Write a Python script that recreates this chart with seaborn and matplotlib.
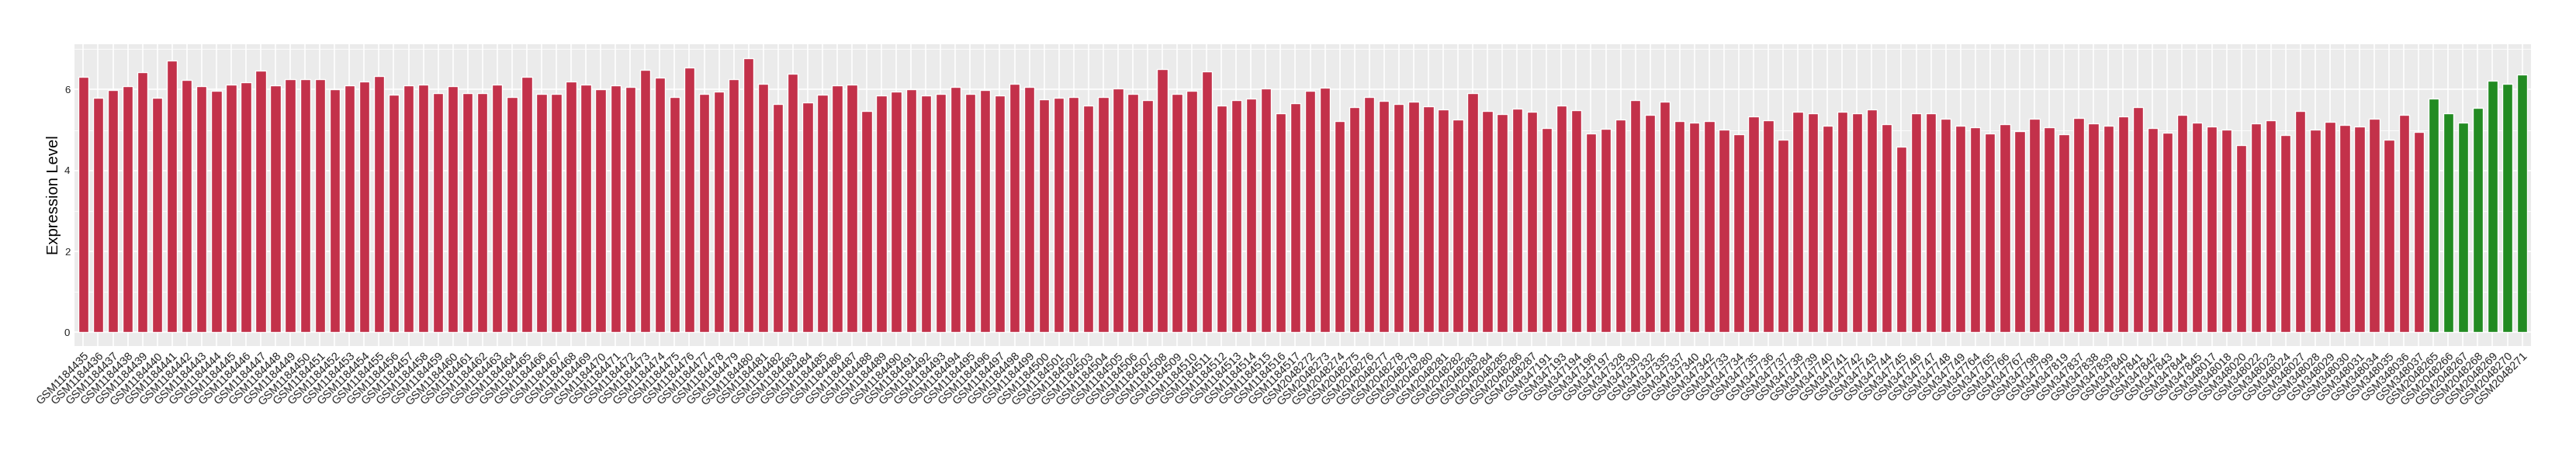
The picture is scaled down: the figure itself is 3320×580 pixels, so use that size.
import matplotlib
matplotlib.use("Agg")
import matplotlib.pyplot as plt
from matplotlib.ticker import MultipleLocator
import pandas as pd
import seaborn as sns

RED = "#C3314A"
GREEN = "#228B22"

# sample ids (x axis order)
tumor_samples = [
    "GSM1184435", "GSM1184436", "GSM1184437", "GSM1184438", "GSM1184439", "GSM1184440", "GSM1184441", "GSM1184442",
    "GSM1184443", "GSM1184444", "GSM1184445", "GSM1184446", "GSM1184447", "GSM1184448", "GSM1184449", "GSM1184450",
    "GSM1184451", "GSM1184452", "GSM1184453", "GSM1184454", "GSM1184455", "GSM1184456", "GSM1184457", "GSM1184458",
    "GSM1184459", "GSM1184460", "GSM1184461", "GSM1184462", "GSM1184463", "GSM1184464", "GSM1184465", "GSM1184466",
    "GSM1184467", "GSM1184468", "GSM1184469", "GSM1184470", "GSM1184471", "GSM1184472", "GSM1184473", "GSM1184474",
    "GSM1184475", "GSM1184476", "GSM1184477", "GSM1184478", "GSM1184479", "GSM1184480", "GSM1184481", "GSM1184482",
    "GSM1184483", "GSM1184484", "GSM1184485", "GSM1184486", "GSM1184487", "GSM1184488", "GSM1184489", "GSM1184490",
    "GSM1184491", "GSM1184492", "GSM1184493", "GSM1184494", "GSM1184495", "GSM1184496", "GSM1184497", "GSM1184498",
    "GSM1184499", "GSM1184500", "GSM1184501", "GSM1184502", "GSM1184503", "GSM1184504", "GSM1184505", "GSM1184506",
    "GSM1184507", "GSM1184508", "GSM1184509", "GSM1184510", "GSM1184511", "GSM1184512", "GSM1184513", "GSM1184514",
    "GSM1184515", "GSM1184516", "GSM1184517",
    "GSM2048272", "GSM2048273", "GSM2048274", "GSM2048275", "GSM2048276", "GSM2048277", "GSM2048278", "GSM2048279",
    "GSM2048280", "GSM2048281", "GSM2048282", "GSM2048283", "GSM2048284", "GSM2048285", "GSM2048286", "GSM2048287",
    "GSM347191", "GSM347193", "GSM347194", "GSM347196", "GSM347197", "GSM347328", "GSM347330", "GSM347332",
    "GSM347335", "GSM347337", "GSM347340", "GSM347342",
    "GSM347733", "GSM347734", "GSM347735", "GSM347736", "GSM347737", "GSM347738", "GSM347739", "GSM347740",
    "GSM347741", "GSM347742", "GSM347743", "GSM347744", "GSM347745", "GSM347746", "GSM347747", "GSM347748",
    "GSM347749", "GSM347764", "GSM347765", "GSM347766", "GSM347767", "GSM347798", "GSM347799", "GSM347819",
    "GSM347837", "GSM347838", "GSM347839", "GSM347840", "GSM347841", "GSM347842", "GSM347843", "GSM347844",
    "GSM347845",
    "GSM348017", "GSM348018", "GSM348020", "GSM348022", "GSM348023", "GSM348024", "GSM348027", "GSM348028",
    "GSM348029", "GSM348030", "GSM348031", "GSM348034", "GSM348035", "GSM348036", "GSM348037",
]
normal_samples = [
    "GSM2048265", "GSM2048266", "GSM2048267", "GSM2048268", "GSM2048269", "GSM2048270", "GSM2048271",
]

# expression values
tumor_values = [
    6.32, 5.79, 5.98, 6.08, 6.42, 5.79, 6.72, 6.23, 6.08, 5.96, 6.13, 6.17, 6.46, 6.11,
    6.25, 6.25, 6.25, 6.00, 6.10, 6.19, 6.34, 5.87, 6.10, 6.13, 5.92, 6.08, 5.92, 5.92,
    6.13, 5.81, 6.32, 5.89, 5.90, 6.19, 6.13, 6.00, 6.11, 6.06, 6.48, 6.29, 5.81, 6.55,
    5.89, 5.94, 6.25, 6.78, 6.15, 5.64, 6.40, 5.68, 5.87, 6.10, 6.13, 5.47, 5.85, 5.94,
    6.00, 5.85, 5.89, 6.06, 5.89, 5.98, 5.85, 6.15, 6.06, 5.75, 5.79, 5.81, 5.60, 5.81,
    6.02, 5.90, 5.73, 6.50, 5.90, 5.96, 6.44, 5.60, 5.73, 5.77, 6.02, 5.41, 5.66,
    5.96, 6.04, 5.22, 5.56, 5.81, 5.71, 5.64, 5.70, 5.58, 5.50, 5.26, 5.92, 5.47, 5.39,
    5.52, 5.45,
    5.05, 5.60, 5.49, 4.91, 5.03, 5.26, 5.73, 5.37, 5.70, 5.22, 5.18, 5.22,
    5.01, 4.90, 5.33, 5.24, 4.76, 5.45, 5.41, 5.10, 5.45, 5.41, 5.50, 5.14, 4.59, 5.41,
    5.41, 5.28, 5.10, 5.07, 4.91, 5.14, 4.97, 5.28, 5.07, 4.90, 5.30, 5.16, 5.10, 5.33,
    5.56, 5.05, 4.93, 5.37, 5.18, 5.09, 5.01, 4.63, 5.16, 5.24, 4.88, 5.47, 5.01, 5.20,
    5.12, 5.09, 5.28, 4.76, 5.37, 4.95,
]
normal_values = [5.77, 5.41, 5.18, 5.54, 6.21, 6.15, 6.38]


def build_frame():
    df = pd.concat([
        pd.DataFrame({"sample": tumor_samples, "value": tumor_values, "group": "Tumor"}),
        pd.DataFrame({"sample": normal_samples, "value": normal_values, "group": "Normal"}),
    ], ignore_index=True)
    return df


def main():
    df = build_frame()
    order = list(df["sample"])

    sns.set_theme(style="darkgrid")
    plt.rcParams["font.family"] = ["Liberation Sans", "DejaVu Sans"]

    W, H = 3320, 580
    fig = plt.figure(figsize=(W / 100, H / 100), dpi=100, facecolor="white")
    left, right, top, bottom = 96, 3262, 57, 446
    ax = fig.add_axes([left / W, (H - bottom) / H, (right - left) / W, (bottom - top) / H])
    ax.set_facecolor("#EBEBEB")

    sns.barplot(
        data=df, x="sample", y="value", hue="group", order=order,
        palette={"Tumor": RED, "Normal": GREEN}, width=0.7, dodge=False,
        saturation=1, legend=False, ax=ax,
    )

    n = len(order)
    ymax = df["value"].max()
    pad = ymax * 0.05
    ax.set_xlim(-0.6, n - 0.4)
    ax.set_ylim(-pad, ymax + pad)

    ax.yaxis.set_major_locator(MultipleLocator(2))
    ax.yaxis.set_minor_locator(MultipleLocator(1))
    ax.set_axisbelow(True)
    ax.grid(which="major", color="white", linewidth=1.2)
    ax.grid(which="minor", axis="y", color="white", linewidth=0.6)
    ax.grid(which="minor", axis="x", visible=False)

    for spine in ax.spines.values():
        spine.set_visible(False)

    ax.tick_params(axis="both", which="major", length=2.6, width=0.8,
                   color="#333333", labelcolor="#222222", pad=1.5)
    ax.tick_params(which="minor", length=0)
    ax.tick_params(axis="y", labelsize=9.5)
    ax.tick_params(axis="x", labelsize=10.5)
    ax.set_yticks([0, 2, 4, 6])
    plt.setp(ax.get_xticklabels(), rotation=45, ha="right", va="top", rotation_mode="anchor")

    ax.set_xlabel("")
    ax.set_ylabel("Expression Level", fontsize=14.5, color="black")
    ax.yaxis.set_label_coords(-0.0054, 0.5)

    fig.savefig("out.png", dpi=100, facecolor="white")


if __name__ == "__main__":
    main()
